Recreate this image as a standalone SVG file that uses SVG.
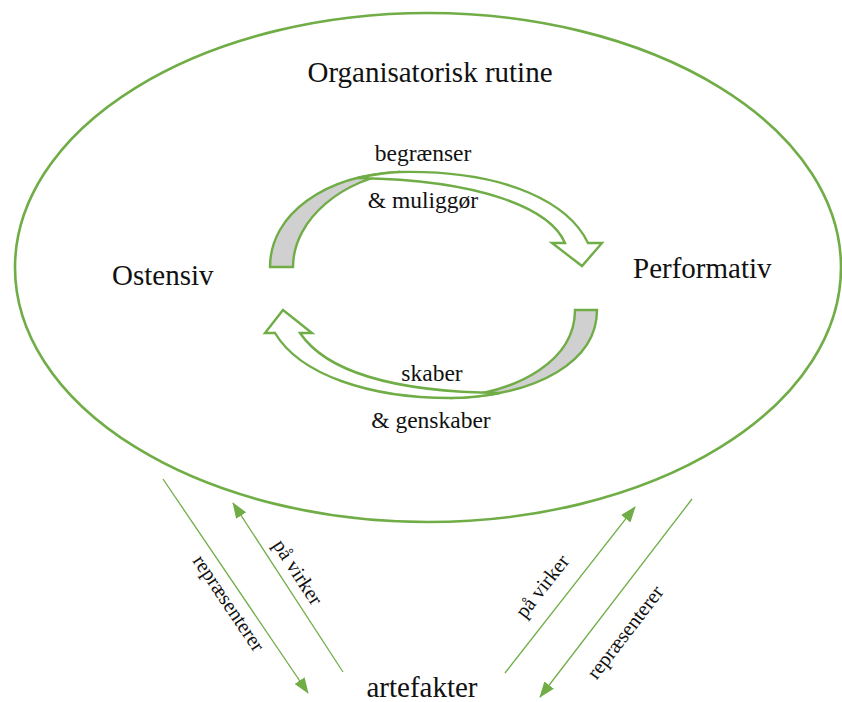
<svg xmlns="http://www.w3.org/2000/svg" width="842" height="702" viewBox="0 0 842 702">
<defs>
<marker id="ah" markerWidth="16" markerHeight="12" refX="15" refY="6" orient="auto" markerUnits="userSpaceOnUse">
<path d="M0,0 L16,6 L0,12 Z" fill="#70ad47"/>
</marker>
<style>
.t{font-family:"Liberation Serif","Times New Roman",serif;fill:#111}
.big{font-size:29px}
.mid{font-size:23.5px}
.sm{font-size:20.5px}
.shape{stroke:#70ad47;stroke-width:2.4;stroke-linejoin:miter}
.conn{stroke:#70ad47;stroke-width:1.3;fill:none}
</style>
</defs>
<rect width="842" height="702" fill="#fff"/>
<g id="routine">
<ellipse cx="428" cy="267.5" rx="413" ry="254.5" fill="none" stroke="#70ad47" stroke-width="2.6"/>
<text class="t big" x="430" y="82" text-anchor="middle">Organisatorisk rutine</text>
</g>
<g id="ostensiv">
<text class="t big" x="112" y="285">Ostensiv</text>
</g>
<g id="performativ">
<text class="t big" x="633" y="278">Performativ</text>
</g>
<g id="artefakter">
<text class="t big" x="422" y="697" text-anchor="middle">artefakter</text>
</g>
<g id="arrow-top">
<path class="shape" fill="#d0d0d0" d="M270,267 C270,214 325,175 400,172 C345,178 293,218 293,267 Z"/>
<path class="shape" fill="#fff" d="M400,172 C510,170 570,205 588,243 L602,243 L582,266 L552,243 L565,243 C550,208 480,180 358,178 C372,175 386,172.5 400,172 Z"/>
<text class="t mid" x="423" y="161" text-anchor="middle">begrænser</text>
<text class="t mid" x="423" y="208" text-anchor="middle">&amp; muliggør</text>
</g>
<g id="arrow-bottom">
<path class="shape" fill="#d0d0d0" d="M597,310 C597,360 540,396 450,398 C520,392 575,360 575,310 Z"/>
<path class="shape" fill="#fff" d="M450,398 C370,398 300,375 275,333 L265,333 L283,310 L312,333 L300,333 C325,370 390,392 500,393 C485,396 468,398 450,398 Z"/>
<text class="t mid" x="432" y="381" text-anchor="middle">skaber</text>
<text class="t mid" x="431" y="428" text-anchor="middle">&amp; genskaber</text>
</g>
<g id="connectors">
<line class="conn" x1="163" y1="479" x2="308" y2="693" marker-end="url(#ah)"/>
<line class="conn" x1="343" y1="672" x2="233" y2="503" marker-end="url(#ah)"/>
<line class="conn" x1="505" y1="673" x2="635" y2="507" marker-end="url(#ah)"/>
<line class="conn" x1="692" y1="499" x2="540" y2="697" marker-end="url(#ah)"/>
<text class="t sm" transform="translate(229,603) rotate(56)" x="0" y="7" text-anchor="middle">repræsenterer</text>
<text class="t sm" transform="translate(298,572) rotate(57)" x="0" y="7" text-anchor="middle">på virker</text>
<text class="t sm" transform="translate(542,586) rotate(-52)" x="0" y="7" text-anchor="middle">på virker</text>
<text class="t sm" transform="translate(625,632) rotate(-52.5)" x="0" y="7" text-anchor="middle">repræsenterer</text>
</g>
</svg>
